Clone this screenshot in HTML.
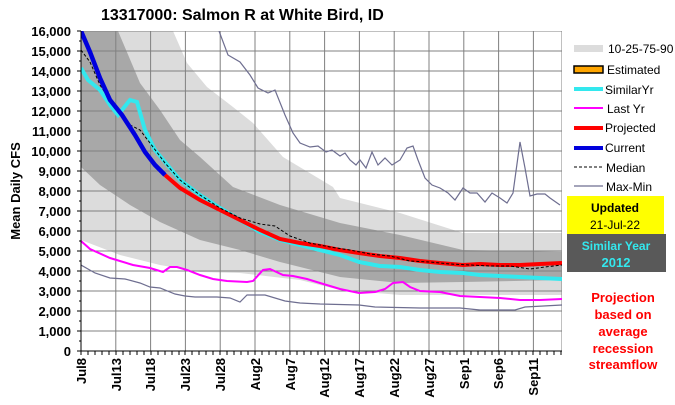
<!DOCTYPE html>
<html><head><meta charset="utf-8"><style>
body{margin:0;background:#fff;}
svg{display:block;font-family:"Liberation Sans",Arial,sans-serif;}
</style></head><body>
<svg width="675" height="405" viewBox="0 0 675 405" xmlns="http://www.w3.org/2000/svg">
<rect width="675" height="405" fill="#fff"/>
<text x="101" y="20" font-size="16" font-weight="bold">13317000: Salmon R at White Bird, ID</text>
<clipPath id="c"><rect x="81" y="31" width="481" height="320"/></clipPath>
<g clip-path="url(#c)">
<polygon fill="#dcdcdc" points="81,0 173,31 187,63 207,87 233,107 253,123 283,157 333,187 340,198 400,213 463,233 562,233 562,295 400,295 340,290 300,280 240,273 200,272 160,265 120,255 81,240"/>
<polygon fill="#a8a8a8" points="81,0 118,31 140,83 160,110 180,140 200,157 233,187 280,205 340,223 400,235 463,250 562,252 562,280 463,282 400,283 340,277 280,262 240,250 200,240 160,222 130,205 100,185 81,167"/>
<g stroke="#808080" stroke-width="1">
<line x1="81" y1="51" x2="562" y2="51"/><line x1="81" y1="71" x2="562" y2="71"/><line x1="81" y1="91" x2="562" y2="91"/><line x1="81" y1="111" x2="562" y2="111"/><line x1="81" y1="131" x2="562" y2="131"/><line x1="81" y1="151" x2="562" y2="151"/><line x1="81" y1="171" x2="562" y2="171"/><line x1="81" y1="191" x2="562" y2="191"/><line x1="81" y1="211" x2="562" y2="211"/><line x1="81" y1="231" x2="562" y2="231"/><line x1="81" y1="251" x2="562" y2="251"/><line x1="81" y1="271" x2="562" y2="271"/><line x1="81" y1="291" x2="562" y2="291"/><line x1="81" y1="311" x2="562" y2="311"/><line x1="81" y1="331" x2="562" y2="331"/><line x1="81" y1="31" x2="562" y2="31"/>
<line x1="115.8" y1="31" x2="115.8" y2="351"/><line x1="150.6" y1="31" x2="150.6" y2="351"/><line x1="185.4" y1="31" x2="185.4" y2="351"/><line x1="220.2" y1="31" x2="220.2" y2="351"/><line x1="255" y1="31" x2="255" y2="351"/><line x1="289.8" y1="31" x2="289.8" y2="351"/><line x1="324.6" y1="31" x2="324.6" y2="351"/><line x1="359.4" y1="31" x2="359.4" y2="351"/><line x1="394.2" y1="31" x2="394.2" y2="351"/><line x1="429" y1="31" x2="429" y2="351"/><line x1="463.8" y1="31" x2="463.8" y2="351"/><line x1="498.6" y1="31" x2="498.6" y2="351"/><line x1="533.4" y1="31" x2="533.4" y2="351"/><line x1="562" y1="31" x2="562" y2="351"/>
</g>
<polyline fill="none" stroke="#6e6e90" stroke-width="1.2" points="219,31 228,55 240,62 250,75 258,88 268,93 275,90 285,115 293,133 300,143 310,147 318,146 326,152 332,150 340,156 345,153 350,160 356,165 360,160 366,168 372,152 378,165 385,158 392,165 400,160 407,148 413,146 418,160 425,178 432,185 440,188 448,193 455,200 463,188 470,193 477,193 485,202 492,193 500,198 507,203 513,193 520,142 525,168 530,196 537,194 545,194 550,198 560,205"/>
<polyline fill="none" stroke="#6e6e90" stroke-width="1.2" points="81,265 95,273 110,278 125,279 140,283 150,287 160,288 175,294 185,296 195,297 217,297 230,298 240,302 247,295 265,295 285,301 300,303 320,304 359,305 375,307 420,308 460,308 480,310 515,310 525,307 562,305"/>
<polyline fill="none" stroke="#ff00ff" stroke-width="2" points="81,241 90,249 110,258 133,265 150,268 163,272 170,267 177,267 187,270 200,275 213,279 227,281 247,282 253,281 263,270 270,269 283,275 293,276 307,279 320,283 340,289 359,293 375,292 385,289 393,283 403,282 410,287 420,291 440,292 460,296 480,297 500,298 520,300 540,300 562,299"/>
<polyline fill="none" stroke="#33e8ee" stroke-width="4" points="81,68 88,80 100,90 110,105 118,115 122,110 130,100 137,102 145,130 155,150 165,162 180,180 200,195 220,208 240,220 260,232 280,240 300,245 320,250 340,255 359,262 380,266 400,267 420,270 440,272 463,273 480,275 500,276 520,277 540,278 562,279"/>
<polyline fill="none" stroke="#ff0000" stroke-width="4" points="165,175 180,188 200,200 220,210 240,220 260,230 280,239 300,243 320,246 340,250 359,253 380,256 400,258 420,261 440,263 463,265 480,264 500,265 520,265 540,264 562,263"/>
<polyline fill="none" stroke="#000" stroke-width="1" stroke-dasharray="3,2" points="81,50 90,62 100,85 110,100 120,115 130,125 140,130 150,143 165,163 180,180 200,195 220,208 240,218 260,224 275,226 290,236 310,243 330,247 350,250 370,254 390,256 410,261 430,262 450,264 470,265 490,266 510,266 530,269 545,267 562,265"/>
<polyline fill="none" stroke="#0000dd" stroke-width="4.5" points="81,31 90,52 100,78 110,100 122,115 135,135 145,152 155,165 165,175"/>
</g>
<g stroke="#000" stroke-width="1">
<line x1="81" y1="31" x2="81" y2="352"/><line x1="81" y1="351" x2="562" y2="351"/>
</g>
<path stroke="#000" stroke-width="1" d="M77 31h4M77 51h4M77 71h4M77 91h4M77 111h4M77 131h4M77 151h4M77 171h4M77 191h4M77 211h4M77 231h4M77 251h4M77 271h4M77 291h4M77 311h4M77 331h4M77 351h4M79 41h2M79 61h2M79 81h2M79 101h2M79 121h2M79 141h2M79 161h2M79 181h2M79 201h2M79 221h2M79 241h2M79 261h2M79 281h2M79 301h2M79 321h2M79 341h2"/>
<path stroke="#000" stroke-width="1" d="M81 351v4M88 351v4M95 351v4M102 351v4M109 351v4M116 351v4M123 351v4M130 351v4M137 351v4M144 351v4M151 351v4M158 351v4M165 351v4M172 351v4M179 351v4M185 351v4M192 351v4M199 351v4M206 351v4M213 351v4M220 351v4M227 351v4M234 351v4M241 351v4M248 351v4M255 351v4M262 351v4M269 351v4M276 351v4M283 351v4M290 351v4M297 351v4M304 351v4M311 351v4M318 351v4M325 351v4M332 351v4M339 351v4M346 351v4M353 351v4M359 351v4M366 351v4M373 351v4M380 351v4M387 351v4M394 351v4M401 351v4M408 351v4M415 351v4M422 351v4M429 351v4M436 351v4M443 351v4M450 351v4M457 351v4M464 351v4M471 351v4M478 351v4M485 351v4M492 351v4M499 351v4M505 351v4M512 351v4M519 351v4M526 351v4M533 351v4M540 351v4M547 351v4M554 351v4M561 351v4"/>
<g font-size="13" font-weight="bold" text-anchor="end">
<text x="71" y="36">16,000</text><text x="71" y="56">15,000</text><text x="71" y="76">14,000</text><text x="71" y="96">13,000</text><text x="71" y="116">12,000</text><text x="71" y="136">11,000</text><text x="71" y="156">10,000</text><text x="71" y="176">9,000</text><text x="71" y="196">8,000</text><text x="71" y="216">7,000</text><text x="71" y="236">6,000</text><text x="71" y="256">5,000</text><text x="71" y="276">4,000</text><text x="71" y="296">3,000</text><text x="71" y="316">2,000</text><text x="71" y="336">1,000</text><text x="71" y="356">0</text>
</g>
<text transform="translate(20,191) rotate(-90)" font-size="13" font-weight="bold" text-anchor="middle">Mean Daily CFS</text>
<g font-size="13" font-weight="bold" text-anchor="end">
<text transform="translate(86,358) rotate(-90)">Jul8</text>
<text transform="translate(121,358) rotate(-90)">Jul13</text>
<text transform="translate(155,358) rotate(-90)">Jul18</text>
<text transform="translate(190,358) rotate(-90)">Jul23</text>
<text transform="translate(225,358) rotate(-90)">Jul28</text>
<text transform="translate(260,358) rotate(-90)">Aug2</text>
<text transform="translate(295,358) rotate(-90)">Aug7</text>
<text transform="translate(329,358) rotate(-90)">Aug12</text>
<text transform="translate(364,358) rotate(-90)">Aug17</text>
<text transform="translate(399,358) rotate(-90)">Aug22</text>
<text transform="translate(434,358) rotate(-90)">Aug27</text>
<text transform="translate(469,358) rotate(-90)">Sep1</text>
<text transform="translate(503,358) rotate(-90)">Sep6</text>
<text transform="translate(538,358) rotate(-90)">Sep11</text>
</g>
<g font-size="12">
<rect x="574" y="45" width="29" height="7" fill="#dcdcdc"/><text x="608" y="53">10-25-75-90</text>
<rect x="574" y="66" width="29" height="7" fill="#ffa500" stroke="#000" stroke-width="1.5"/><text x="607" y="74">Estimated</text>
<line x1="574" y1="89" x2="603" y2="89" stroke="#33e8ee" stroke-width="4"/><text x="605" y="94">SimilarYr</text>
<line x1="574" y1="108" x2="603" y2="108" stroke="#ff00ff" stroke-width="2"/><text x="607" y="113">Last Yr</text>
<line x1="574" y1="128" x2="603" y2="128" stroke="#ff0000" stroke-width="4"/><text x="605" y="132">Projected</text>
<line x1="574" y1="148" x2="603" y2="148" stroke="#0000dd" stroke-width="4"/><text x="605" y="152">Current</text>
<line x1="574" y1="167" x2="603" y2="167" stroke="#000" stroke-width="1" stroke-dasharray="3,2"/><text x="606" y="172">Median</text>
<line x1="574" y1="186" x2="603" y2="186" stroke="#6e6e90" stroke-width="1.2"/><text x="606" y="191">Max-Min</text>
</g>
<rect x="567" y="196" width="97" height="38" fill="#ffff00"/>
<text x="615" y="212" font-size="12" font-weight="bold" text-anchor="middle">Updated</text>
<text x="615" y="229" font-size="12" text-anchor="middle">21-Jul-22</text>
<rect x="567" y="234" width="99" height="38" fill="#595959"/>
<text x="616" y="250" font-size="12" font-weight="bold" text-anchor="middle" fill="#33e8ee">Similar Year</text>
<text x="616" y="267" font-size="13" font-weight="bold" text-anchor="middle" fill="#33e8ee">2012</text>
<g font-size="13" font-weight="bold" fill="#ff0000" text-anchor="middle">
<text x="623" y="302">Projection</text><text x="623" y="319">based on</text><text x="623" y="336">average</text><text x="623" y="353">recession</text><text x="623" y="369">streamflow</text>
</g>
</svg>
</body></html>
